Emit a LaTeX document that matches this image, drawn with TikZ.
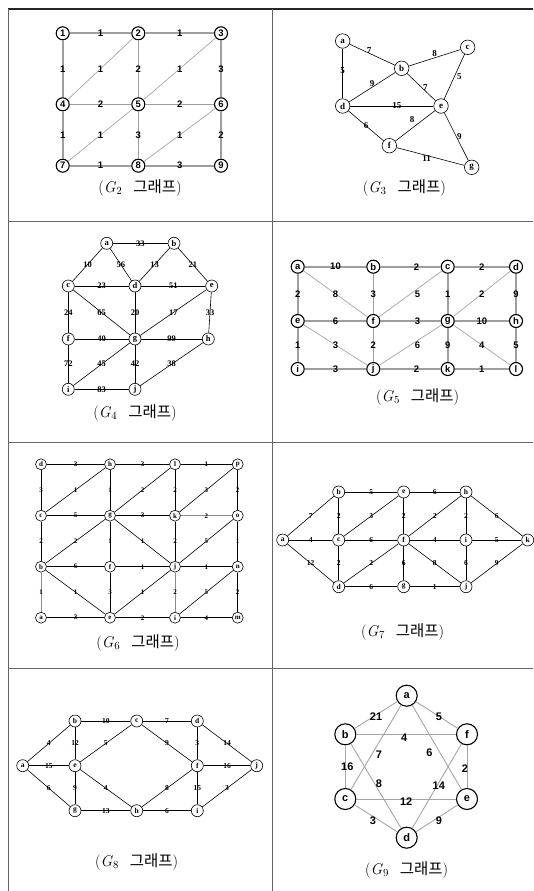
\documentclass[tikz,border=0pt]{standalone}
\usepackage{fontspec}
\newfontfamily\sansf{Liberation Sans}
\newfontfamily\seriff{Liberation Serif}
\newfontfamily\krf{Noto Sans CJK KR}

\begin{document}
\begin{tikzpicture}[x=1pt, y=-1pt,
  dot/.style={circle, draw, line width=1.1pt, fill=white, inner sep=0pt, minimum size=#1},
  dot/.default=13pt,
  vtx/.style={circle, draw, line width=0.6pt, fill=white, inner sep=0pt, minimum size=#1},
  vtx/.default=12pt,
  sansb/.style={font=\sansf\bfseries\fontsize{#1}{#1}\selectfont},
  serifb/.style={font=\seriff\bfseries\fontsize{#1}{#1}\selectfont},
  wt/.style={inner sep=0pt},
  hv/.style={draw=black!38, line width=1.6pt},
  dg/.style={draw=black!35, line width=0.7pt},
  ln/.style={draw=black, line width=0.6pt},
  lg/.style={draw=black!45, line width=0.8pt},
  capt/.style={font=\fontsize{15.5}{18}\selectfont},
  rule/.style={draw=black!60, line width=1pt}]
  \useasboundingbox (0,0) rectangle (533,891);
  % table frame
  \draw[line width=1.2pt, black!85] (8,9) -- (533,9);
  \draw[rule] (8.5,9) -- (8.5,891);
  \draw[rule] (272,9) -- (272,891);
  \foreach \ry in {221,442.5,668.5} \draw[rule] (8.5,\ry) -- (533,\ry);

  % G2
  \begin{scope}[name prefix=g2-, sansb=9.5]
    \foreach \n/\x/\y in {1/62.7/33.3, 2/138.3/33.3, 3/221/33.3, 4/62.7/104.3, 5/138.3/104.3, 6/221/104.3, 7/62.7/165.7, 8/138.3/165.7, 9/221/165.7}
      \node[dot] (\n) at (\x,\y) {\n};
    \foreach \u/\v/\w in {1/2/1, 2/3/1, 4/5/2, 5/6/2, 7/8/1, 8/9/3, 1/4/1, 4/7/1, 2/5/2, 5/8/3, 3/6/3, 6/9/2}
      \draw[hv] (\u) -- node[wt] {\w} (\v);
    \foreach \u/\v/\w in {4/2/1, 5/3/1, 7/5/1, 8/6/1}
      \draw[dg] (\u) -- node[wt] {\w} (\v);
  \end{scope}
  \node[capt] (cap2) at (140,188) {(\textit{G}\textsubscript{2}\hspace{11pt}{\krf 그래프})};

  % G3
  \begin{scope}[name prefix=g3-, serifb=9]
    \foreach \n/\x/\y in {a/342.7/41, b/401.7/68.3, c/467.7/47.3, d/342.7/106, e/441/106, f/389.3/145.7, g/471.7/167.3}
      \node[vtx=14.5pt] (\n) at (\x,\y) {\n};
    \foreach \u/\v/\w/\dx/\dy in {a/b/7/-3/4, b/c/8/0/4, a/d/5/0/3, b/d/9/0/4, b/e/7/4/0, c/e/5/5/0, d/e/15/5/0, e/f/8/-3/6, d/f/6/0/0, e/g/9/3/0, f/g/11/-4/-2}
      \draw[ln] (\u) -- node[wt, xshift=\dx, yshift=\dy] {\w} (\v);
  \end{scope}
  \node[capt] (cap3) at (404.3,188) {(\textit{G}\textsubscript{3}\hspace{11pt}{\krf 그래프})};

  % G4
  \begin{scope}[name prefix=g4-, serifb=8.5]
    \foreach \n/\x/\y in {a/106.7/243.3, b/174/243.3, c/68.3/286, d/135/286, e/211.7/286, f/68.3/339, g/135/339, h/208.3/339, i/68.3/389.3, j/135/389.3}
      \node[vtx=12pt] (\n) at (\x,\y) {\n};
    \foreach \u/\v/\w in {a/b/33, a/c/10, a/d/56, b/d/13, b/e/21, c/d/23, d/e/51, c/f/24, c/g/65, d/g/20, e/g/17, e/h/33, f/g/40, g/h/99, f/i/72, g/i/45, g/j/42, h/j/38, i/j/83}
      \draw[ln] (\u) -- node[wt] {\w} (\v);
  \end{scope}
  \node[capt] (cap4) at (135,413) {(\textit{G}\textsubscript{4}\hspace{11pt}{\krf 그래프})};

  % G5
  \begin{scope}[name prefix=g5-, sansb=9.5]
    \foreach \n/\x/\y in {a/297.7/266.7, b/373.3/266.7, c/447.7/266.7, d/516/266.7, e/297.7/321, f/373.3/321, g/447.7/321, h/516/321, i/297.7/369, j/373.3/369, k/447.7/369, l/516/369}
      \node[dot] (\n) at (\x,\y) {\n};
    \foreach \u/\v/\w/\dx in {a/b/10/0, b/c/2/6, c/d/2/0, e/f/6/0, f/g/3/7, g/h/10/0, i/j/3/0, j/k/2/6, k/l/1/0, a/e/2/0, e/i/1/0, b/f/3/0, f/j/2/0, c/g/1/0, g/k/9/0, d/h/9/0, h/l/5/0}
      \draw[hv] (\u) -- node[wt, xshift=\dx] {\w} (\v);
    \foreach \u/\v/\w/\dx in {a/f/8/0, c/f/5/7, d/g/2/0, e/j/3/0, g/j/6/7, g/l/4/0}
      \draw[dg] (\u) -- node[wt, xshift=\dx] {\w} (\v);
  \end{scope}
  \node[capt] (cap5) at (417.7,396.7) {(\textit{G}\textsubscript{5}\hspace{11pt}{\krf 그래프})};

  % G6
  \begin{scope}[name prefix=g6-, serifb=7]
    \foreach \n/\x/\y in {d/41/464.3, h/110/464.3, l/175/464.3, p/237.7/464.3, c/41/515.7, g/110/515.7, k/175/515.7, o/237.7/515.7, b/41/566.7, f/110/566.7, j/175/566.7, n/237.7/566.7, a/41/617.7, e/110/617.7, i/175/617.7, m/237.7/617.7}
      \node[vtx=11pt] (\n) at (\x,\y) {\n};
    \foreach \u/\v/\w in {d/h/3, h/l/3, l/p/1, d/c/3, c/h/1, h/g/1, g/l/2, l/k/2, k/p/3, p/o/2, c/g/5, g/k/3, c/b/2, b/g/2, g/f/1, g/j/1, k/j/2, j/o/5, o/n/1, b/f/6, f/j/1, j/n/1, b/e/1, f/e/3, e/j/1, i/n/5, n/m/2, a/e/3, e/i/2, i/m/4}
      \draw[ln] (\u) -- node[wt] {\w} (\v);
    \foreach \u/\v/\w in {k/o/2, b/a/1, j/i/2}
      \draw[lg] (\u) -- node[wt] {\w} (\v);
  \end{scope}
  \node[capt] (cap6) at (138,643) {(\textit{G}\textsubscript{6}\hspace{11pt}{\krf 그래프})};

  % G7
  \begin{scope}[name prefix=g7-, serifb=7.5]
    \foreach \n/\x/\y in {a/282.7/540, b/338.7/492, c/338.7/540, d/338.7/586.7, e/403.7/492, f/403.7/540, g/403.7/586.7, h/466/492, i/466/540, j/466/586.7, k/527.7/540}
      \node[vtx=12pt] (\n) at (\x,\y) {\n};
    \foreach \u/\v/\w in {a/b/7, a/c/4, a/d/12, b/c/2, b/e/5, c/e/3, e/f/2, e/h/6, f/h/2, h/i/2, h/k/6, c/f/6, f/i/4, i/k/5, c/d/2, d/f/2, f/g/6, f/j/8, i/j/6, j/k/9, d/g/6, g/j/1}
      \draw[ln] (\u) -- node[wt] {\w} (\v);
  \end{scope}
  \node[capt] (cap7) at (402.7,632) {(\textit{G}\textsubscript{7}\hspace{11pt}{\krf 그래프})};

  % G8
  \begin{scope}[name prefix=g8-, serifb=7.5]
    \foreach \n/\x/\y in {a/22.7/765.7, b/75/721, c/136.7/721, d/197.3/721, e/75/765.7, f/197.3/765.7, g/75/810.7, h/136.7/810.7, i/197.3/810.7, j/256.7/765.7}
      \node[vtx=12pt] (\n) at (\x,\y) {\n};
    \foreach \u/\v/\w in {a/b/4, a/e/15, a/g/6, b/c/10, b/e/12, c/e/5, c/d/7, c/f/9, d/f/3, d/j/14, e/g/9, e/h/4, g/h/13, h/f/8, f/i/15, f/j/16, h/i/6, i/j/3}
      \draw[ln] (\u) -- node[wt] {\w} (\v);
  \end{scope}
  \node[capt] (cap8) at (136.7,861.7) {(\textit{G}\textsubscript{8}\hspace{11pt}{\krf 그래프})};

  % G9
  \begin{scope}[name prefix=g9-, sansb=11]
    \foreach \n/\x/\y in {a/406.7/695.7, b/345.3/734.3, f/467/734.3, c/345.3/799, e/467/799, d/406.7/837.7}
      \node[dot=21pt] (\n) at (\x,\y) {\n};
    \foreach \u/\v/\w/\dx/\dy in {a/b/21/0/-2, a/f/5/2/-2, b/f/4/-2/-3.5, a/c/7/3/-7, a/e/6/-7.5/-5, b/c/16/2/0, f/e/2/-2/-2.5, b/d/8/3/2, f/d/14/2/0, c/e/12/0/-3, c/d/3/-3/-2, e/d/9/2/-2}
      \draw[dg, line width=0.9pt] (\u) -- node[wt, xshift=\dx, yshift=\dy] {\w} (\v);
  \end{scope}
  \node[capt] (cap9) at (406.7,870) {(\textit{G}\textsubscript{9}\hspace{11pt}{\krf 그래프})};
\end{tikzpicture}
\end{document}
